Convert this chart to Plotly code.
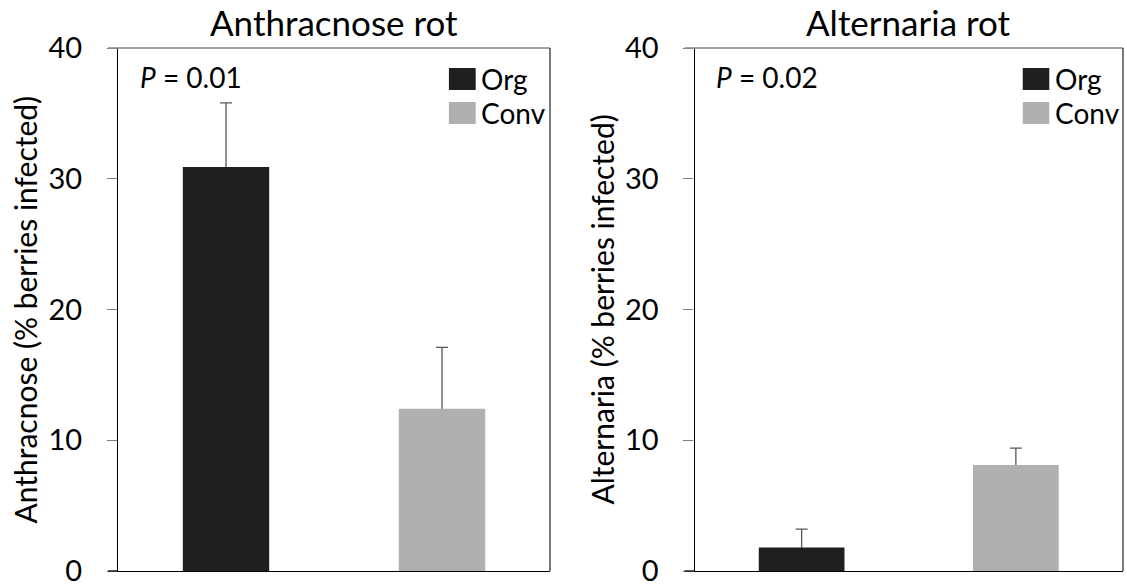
import plotly.graph_objects as go

# ---- data ----
categories = ["Org", "Conv"]
anthracnose_mean = [30.9, 12.4]
anthracnose_err = [4.9, 4.7]
alternaria_mean = [1.8, 8.1]
alternaria_err = [1.4, 1.3]
panel_titles = ["Anthracnose rot", "Alternaria rot"]
y_titles = ["Anthracnose (% berries infected)", "Alternaria (% berries infected)"]
p_values = ["0.01", "0.02"]
y_ticks = [0, 10, 20, 30, 40]

bar_colors = ["#1f1f1f", "#b0b0b0"]
FONT = "Lato"
W, H = 1127, 586

fig = go.Figure()

for i, (means, errs) in enumerate([(anthracnose_mean, anthracnose_err),
                                   (alternaria_mean, alternaria_err)]):
    ax = "" if i == 0 else "2"
    # invisible bars carrying the error bars (lower half hidden by real bars)
    fig.add_trace(go.Bar(
        x=categories, y=means, width=0.4,
        marker=dict(color="rgba(0,0,0,0)", line=dict(width=0)),
        error_y=dict(type="data", array=errs, symmetric=True,
                     color="#555555", thickness=1.3, width=6),
        xaxis="x" + ax, yaxis="y" + ax, showlegend=False, hoverinfo="skip",
    ))
    fig.add_trace(go.Bar(
        x=categories, y=means, width=0.4,
        marker=dict(color=bar_colors, line=dict(width=0)),
        xaxis="x" + ax, yaxis="y" + ax, showlegend=False,
    ))

# panel pixel geometry
y_top, y_bot = 48, 571
panels = [(118, 550), (694.5, 1123)]
ydom = [(H - y_bot) / H, (H - y_top) / H]

layout = dict(
    width=W, height=H, margin=dict(l=0, r=0, t=0, b=0, pad=0, autoexpand=False),
    paper_bgcolor="white", plot_bgcolor="white",
    font=dict(family=FONT, color="black", size=29),
    showlegend=False, barmode="overlay",
)
shapes = []
annotations = []
for i, (x0, x1) in enumerate(panels):
    ax = "" if i == 0 else "2"
    pw = x1 - x0
    layout["xaxis" + ax] = dict(
        domain=[x0 / W, x1 / W], anchor="y" + ax, range=[-0.5, 1.5],
        showticklabels=False, ticks="", showgrid=False, zeroline=False,
        showline=True, linecolor="black", linewidth=1.3, fixedrange=True,
        automargin=False,
    )
    layout["yaxis" + ax] = dict(
        domain=ydom, anchor="x" + ax, range=[0, 40], tickvals=y_ticks,
        ticks="outside", ticklen=10, tickcolor="#7f7f7f", tickwidth=1.3,
        showgrid=False, zeroline=False, showline=True, linecolor="black",
        linewidth=1.3, ticklabelstandoff=19, ticklabeloverflow="allow",
        automargin=False,
        tickfont=dict(family=FONT, size=29, color="black"),
    )
    xr = "x" + ax + " domain"
    yr = "y" + ax + " domain"
    ext = -10 / pw
    shapes.append(dict(type="line", xref=xr, yref=yr, x0=ext, x1=1, y0=1, y1=1,
                       line=dict(color="#868686", width=1.5)))
    shapes.append(dict(type="line", xref=xr, yref=yr, x0=1, x1=1, y0=0, y1=1,
                       line=dict(color="#202020", width=1.2)))
    shapes.append(dict(type="line", xref=xr, yref=yr, x0=ext, x1=0, y0=0, y1=0,
                       line=dict(color="black", width=1.3)))
    leg_rows = [(68, 90), (102, 124)]
    for k, (cat, col) in enumerate(zip(categories, bar_colors)):
        ya, yb = leg_rows[k]
        shapes.append(dict(type="rect", xref=xr, yref="paper",
                           x0=0.766, x1=0.828,
                           y0=(H - yb) / H, y1=(H - ya) / H,
                           fillcolor=col, line=dict(width=0)))
        annotations.append(dict(xref=xr, yref="paper", x=0.836,
                                y=(H - (ya + yb) / 2) / H,
                                xanchor="left", yanchor="middle",
                                text=cat, showarrow=False,
                                font=dict(family=FONT, size=28, color="black")))
    annotations.append(dict(xref=xr, yref="paper", x=0.5, y=(H - 22) / H,
                            xanchor="center", yanchor="middle",
                            text=panel_titles[i], showarrow=False,
                            font=dict(family=FONT, size=35, color="black")))
    annotations.append(dict(xref=xr, yref="paper", x=0.046, y=(H - 77) / H,
                            xanchor="left", yanchor="middle",
                            text="<i>P</i> = " + p_values[i], showarrow=False,
                            font=dict(family=FONT, size=28, color="black")))
    ytx = [24, 601][i]
    annotations.append(dict(xref="paper", yref="paper", x=ytx / W,
                            y=(H - (y_top + y_bot) / 2) / H,
                            xanchor="center", yanchor="middle", textangle=-90,
                            text=y_titles[i], showarrow=False,
                            font=dict(family=FONT, size=30, color="black")))

layout["shapes"] = shapes
layout["annotations"] = annotations
fig.update_layout(**layout)
fig.write_html("out.html")
